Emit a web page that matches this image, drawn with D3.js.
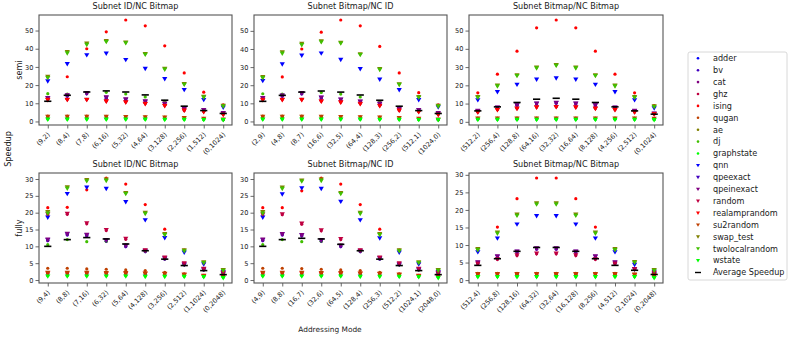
<!DOCTYPE html>
<html><head><meta charset="utf-8">
<script src="https://cdn.jsdelivr.net/npm/d3@7"></script>
<style>body{margin:0;background:#fff} svg{display:block;font-family:"DejaVu Sans",sans-serif}</style>
</head><body><svg id="chart" width="793" height="338"></svg>
<script>
// ---------------- DATA ----------------
const seriesNames = ["adder","bv","cat","ghz","ising","qugan","ae","dj","graphstate","qnn","qpeexact","qpeinexact","random","realamprandom","su2random","swap_test","twolocalrandom","wstate"];
const avgLabel = "Average Speedup";
const rowLabels = ["semi","fully"];
const panelTitles = ["Subnet ID/NC Bitmap","Subnet Bitmap/NC ID","Subnet Bitmap/NC Bitmap"];

const cats_semi_idBitmap = ["(9,2)","(8,4)","(7,8)","(6,16)","(5,32)","(4,64)","(3,128)","(2,256)","(1,512)","(0,1024)"];
const cats_semi_bitmapId = ["(2,9)","(4,8)","(8,7)","(16,6)","(32,5)","(64,4)","(128,3)","(256,2)","(512,1)","(1024,0)"];
const cats_semi_bitmapBitmap = ["(512,2)","(256,4)","(128,8)","(64,16)","(32,32)","(16,64)","(8,128)","(4,256)","(2,512)","(0,1024)"];
const cats_fully_idBitmap = ["(9,4)","(8,8)","(7,16)","(6,32)","(5,64)","(4,128)","(3,256)","(2,512)","(1,1024)","(0,2048)"];
const cats_fully_bitmapId = ["(4,9)","(8,8)","(16,7)","(32,6)","(64,5)","(128,4)","(256,3)","(512,2)","(1024,1)","(2048,0)"];
const cats_fully_bitmapBitmap = ["(512,4)","(256,8)","(128,16)","(64,32)","(32,64)","(16,128)","(8,256)","(4,512)","(2,1024)","(0,2048)"];

const semi_idBitmap = [
  [1.8,1.8,1.8,1.8,1.7,1.7,1.6,1.5,1.3,1.0],
  [12.5,13.9,15.2,12.7,11.6,10.5,9.3,6.8,6.0,4.3],
  [12.7,14.1,15.4,12.9,11.8,10.7,9.5,6.9,6.1,4.4],
  [12.2,12.2,12.2,11.3,10.8,10.0,8.9,6.0,5.5,4.0],
  [24.5,24.6,40.0,49.3,55.8,52.6,41.6,26.7,16.1,9.1],
  [2.9,2.9,2.9,2.8,2.7,2.6,2.4,2.1,1.7,1.2],
  [2.1,2.1,2.1,2.0,2.0,1.9,1.8,1.6,1.4,1.1],
  [15.3,15.1,15.8,16.0,15.1,13.5,11.0,7.8,5.8,4.0],
  [1.3,1.3,1.3,1.3,1.3,1.2,1.2,1.1,1.0,0.9],
  [22.1,31.6,36.5,37.4,33.9,29.0,23.4,17.4,11.9,7.7],
  [12.8,14.2,15.5,13.1,12.0,10.9,9.7,7.0,6.2,4.5],
  [13.0,14.4,15.7,13.3,12.2,11.1,9.9,7.1,6.4,4.7],
  [12.0,12.0,12.0,11.1,10.6,9.8,8.7,6.2,5.3,3.8],
  [11.8,11.9,11.9,11.0,10.5,9.6,8.5,6.0,5.2,3.7],
  [2.7,2.7,2.7,2.6,2.5,2.4,2.2,1.9,1.5,1.1],
  [24.6,38.3,42.9,44.3,43.5,37.2,29.0,20.6,13.6,8.7],
  [24.0,37.5,42.2,43.8,43.1,36.8,28.6,20.3,13.2,8.3],
  [1.1,1.1,1.1,1.1,1.1,1.1,1.0,1.0,0.9,0.8]
];
const avg_semi_idBitmap = [11.1,14.4,16.2,16.8,16.2,14.6,11.7,8.4,6.0,4.4];

const semi_bitmapId = [
  [1.8,1.8,1.8,1.8,1.7,1.7,1.6,1.5,1.3,1.0],
  [12.5,13.9,15.2,12.7,11.6,10.5,9.3,6.8,6.0,4.3],
  [12.7,14.1,15.4,12.9,11.8,10.7,9.5,6.9,6.1,4.4],
  [12.2,12.2,12.2,11.3,10.8,10.0,8.9,6.0,5.5,4.0],
  [24.5,24.6,40.0,49.3,56.0,52.8,41.4,26.8,15.9,9.1],
  [2.9,2.9,2.9,2.8,2.7,2.6,2.4,2.1,1.7,1.2],
  [2.1,2.1,2.1,2.0,2.0,1.9,1.8,1.6,1.4,1.1],
  [15.3,15.1,15.8,16.0,15.1,13.5,11.0,7.8,5.8,4.0],
  [1.3,1.3,1.3,1.3,1.3,1.2,1.2,1.1,1.0,0.9],
  [22.4,31.6,36.4,37.6,34.1,29.0,23.2,17.4,11.9,7.9],
  [12.8,14.2,15.5,13.1,12.0,10.9,9.7,7.0,6.2,4.5],
  [13.0,14.4,15.7,13.3,12.2,11.1,9.9,7.1,6.4,4.7],
  [12.0,12.0,12.0,11.1,10.6,9.8,8.7,6.2,5.3,3.8],
  [11.8,11.9,11.9,11.0,10.5,9.6,8.5,6.0,5.2,3.7],
  [2.7,2.7,2.7,2.6,2.5,2.4,2.2,1.9,1.5,1.1],
  [24.6,38.3,42.9,44.3,43.5,37.2,29.0,20.6,13.6,8.7],
  [24.0,37.5,42.2,43.8,43.1,36.8,28.6,20.3,13.2,8.3],
  [1.1,1.1,1.1,1.1,1.1,1.1,1.0,1.0,0.9,0.8]
];
const avg_semi_bitmapId = [11.1,14.4,16.2,16.8,16.2,14.6,11.7,8.4,6.0,4.4];

const semi_bitmapBitmap = [
  [1.6,1.6,1.6,1.6,1.6,1.6,1.6,1.6,1.6,1.5],
  [5.8,7.6,8.9,9.8,10.2,9.8,8.9,7.6,5.8,4.3],
  [5.9,7.7,9.0,9.9,10.3,9.9,9.0,7.7,5.9,4.4],
  [5.4,6.7,7.4,8.1,8.3,8.1,7.4,6.7,5.4,4.4],
  [15.9,26.1,38.7,51.5,55.8,51.5,38.7,26.1,15.9,8.9],
  [2.0,2.0,2.0,2.0,2.0,2.0,2.0,2.0,2.0,1.9],
  [1.8,1.8,1.8,1.8,1.8,1.8,1.8,1.8,1.8,1.7],
  [1.7,1.7,1.7,1.7,1.7,1.7,1.7,1.7,1.7,1.6],
  [1.4,1.4,1.4,1.4,1.4,1.4,1.4,1.4,1.4,1.2],
  [11.9,16.4,20.4,23.2,23.9,23.2,20.4,16.4,11.9,7.5],
  [6.0,7.8,9.1,10.0,10.4,10.0,9.1,7.8,6.0,4.5],
  [6.1,7.9,9.2,10.1,10.5,10.1,9.2,7.9,6.1,4.6],
  [5.3,6.6,7.3,8.0,8.2,8.0,7.3,6.6,5.3,4.3],
  [5.2,6.5,7.2,7.9,8.1,7.9,7.2,6.5,5.2,4.2],
  [1.9,1.9,1.9,1.9,1.9,1.9,1.9,1.9,1.9,1.8],
  [13.7,19.9,25.6,29.8,31.2,29.8,25.6,19.9,13.7,8.6],
  [13.3,19.5,25.2,29.4,30.8,29.4,25.2,19.5,13.3,8.2],
  [1.2,1.2,1.2,1.2,1.2,1.2,1.2,1.2,1.2,1.0]
];
const avg_semi_bitmapBitmap = [6.0,8.2,10.6,12.4,12.9,12.4,10.6,8.2,6.0,4.2];

const fully_idBitmap = [
  [1.8,1.8,1.8,1.8,1.8,1.7,1.6,1.5,1.3,1.2],
  [11.7,13.4,13.1,11.5,9.9,8.4,6.2,4.5,3.0,1.8],
  [11.8,13.5,13.2,11.6,10.0,8.5,6.3,4.6,3.1,1.9],
  [19.4,19.5,16.7,14.7,12.1,8.8,6.6,4.9,3.3,2.1],
  [21.5,21.6,26.8,30.3,28.5,22.4,15.1,8.9,5.0,2.8],
  [3.5,3.5,3.3,3.2,3.0,2.8,2.3,1.8,1.3,1.5],
  [2.0,2.0,2.0,2.0,1.9,1.9,1.8,1.6,1.4,1.1],
  [10.5,12.0,11.4,11.5,10.4,8.6,6.3,4.5,3.0,1.8],
  [1.3,1.3,1.3,1.3,1.3,1.2,1.2,1.1,1.0,0.8],
  [18.6,25.6,27.5,27.1,23.2,17.8,12.5,8.2,4.7,2.4],
  [11.9,13.6,13.3,11.7,10.1,8.6,6.4,4.6,3.1,1.9],
  [12.1,13.8,13.5,11.9,10.3,8.7,6.5,4.7,3.2,2.0],
  [19.6,19.7,16.9,14.9,12.3,8.9,6.7,5.0,3.4,2.2],
  [2.0,2.0,2.0,1.9,1.9,1.9,1.8,1.6,1.3,1.1],
  [2.2,2.2,2.2,2.1,2.1,2.0,1.9,1.6,1.2,1.3],
  [20.2,27.6,29.7,29.9,25.9,20.0,13.7,8.9,5.3,3.0],
  [19.8,27.2,29.4,29.5,25.6,19.7,13.4,8.6,5.1,2.8],
  [1.1,1.1,1.1,1.1,1.1,1.0,1.0,1.0,0.9,0.6]
];
const avg_fully_idBitmap = [10.0,12.0,12.6,12.2,10.7,8.7,6.2,4.3,2.8,1.6];

const fully_bitmapId = [
  [1.8,1.8,1.8,1.8,1.8,1.7,1.6,1.5,1.3,1.2],
  [11.7,13.4,13.1,11.5,9.9,8.4,6.2,4.5,3.0,1.8],
  [11.8,13.5,13.2,11.6,10.0,8.5,6.3,4.6,3.1,1.9],
  [19.3,19.4,16.6,14.6,12.0,8.8,6.6,4.9,3.3,2.1],
  [21.5,21.5,26.5,30.3,28.5,22.4,15.1,8.9,5.0,2.8],
  [3.5,3.5,3.4,3.2,3.0,2.8,2.3,1.8,1.3,1.5],
  [2.0,2.0,2.0,2.0,1.9,1.9,1.8,1.6,1.4,1.1],
  [10.5,12.0,11.4,11.5,10.4,8.6,6.3,4.5,3.0,1.8],
  [1.3,1.3,1.3,1.3,1.3,1.2,1.2,1.1,1.0,0.8],
  [18.6,25.5,27.3,27.1,23.3,17.8,12.4,8.2,4.7,2.4],
  [11.9,13.6,13.3,11.7,10.1,8.6,6.4,4.6,3.1,1.9],
  [12.1,13.7,13.4,11.9,10.3,8.7,6.6,4.7,3.2,2.0],
  [19.5,19.6,16.8,14.8,12.2,8.9,6.7,5.0,3.4,2.2],
  [2.0,2.0,2.0,1.9,1.9,1.9,1.8,1.6,1.3,1.1],
  [2.2,2.2,2.2,2.1,2.1,2.0,1.9,1.6,1.2,1.3],
  [20.2,27.5,29.6,29.9,25.9,20.0,13.7,8.9,5.3,3.0],
  [19.8,27.1,29.3,29.5,25.6,19.7,13.4,8.6,5.1,2.8],
  [1.1,1.1,1.1,1.1,1.1,1.0,1.0,1.0,0.9,0.6]
];
const avg_fully_bitmapId = [10.0,12.0,12.4,12.2,10.6,8.7,6.2,4.3,2.8,1.6];

const fully_bitmapBitmap = [
  [1.4,1.5,1.5,1.5,1.5,1.5,1.5,1.4,1.3,1.1],
  [4.8,6.5,7.9,8.8,8.8,7.9,6.5,4.8,3.0,1.7],
  [4.9,6.6,8.0,8.9,8.9,8.0,6.6,4.9,3.1,1.8],
  [4.6,5.9,7.0,7.5,7.5,7.0,5.9,4.6,3.0,2.0],
  [8.9,15.1,23.2,29.1,29.1,23.2,15.1,8.9,5.0,2.9],
  [1.9,1.9,1.9,1.9,1.9,1.9,1.9,1.9,1.7,1.5],
  [1.7,1.7,1.7,1.7,1.7,1.7,1.7,1.7,1.6,1.4],
  [1.5,1.5,1.5,1.5,1.5,1.5,1.5,1.5,1.4,1.3],
  [1.0,1.0,1.0,1.0,1.0,1.0,1.0,1.0,1.0,0.8],
  [8.0,11.9,15.9,18.3,18.3,15.9,11.9,8.0,4.4,2.4],
  [5.0,6.7,8.1,9.0,9.0,8.1,6.7,5.0,3.1,1.8],
  [5.1,6.8,8.2,9.1,9.1,8.2,6.8,5.1,3.2,1.9],
  [4.7,6.0,7.1,7.6,7.6,7.1,6.0,4.7,3.1,2.1],
  [1.6,1.6,1.6,1.6,1.6,1.6,1.6,1.6,1.5,1.3],
  [1.8,1.8,1.8,1.8,1.8,1.8,1.8,1.8,1.6,1.4],
  [8.9,13.6,18.7,21.9,21.9,18.7,13.6,8.9,5.2,2.9],
  [8.6,13.3,18.4,21.6,21.6,18.4,13.3,8.6,5.0,2.7],
  [0.9,0.9,0.9,0.9,0.9,0.9,0.9,0.9,0.9,0.6]
];
const avg_fully_bitmapBitmap = [4.2,6.1,8.2,9.3,9.3,8.2,6.1,4.2,2.8,1.6];

const yTicksSemi = [0,10,20,30,40,50];
const yTicksFully = [0,5,10,15,20,25,30];

// ---------------- STYLE / LAYOUT ----------------
const palette = ["#0000ff","#4000bf","#800080","#bf0040","#ff0000","#bf4000","#808000","#40bf00","#00ff00"];
const colX = [[39,232],[254,447],[469,663]];
const rowY = [[15,125],[173,283]];
const textCol = "#1a1a1a";

const panels = [
  {row:0,col:0,cats:cats_semi_idBitmap,vals:semi_idBitmap,avg:avg_semi_idBitmap,ticks:yTicksSemi},
  {row:0,col:1,cats:cats_semi_bitmapId,vals:semi_bitmapId,avg:avg_semi_bitmapId,ticks:yTicksSemi},
  {row:0,col:2,cats:cats_semi_bitmapBitmap,vals:semi_bitmapBitmap,avg:avg_semi_bitmapBitmap,ticks:yTicksSemi},
  {row:1,col:0,cats:cats_fully_idBitmap,vals:fully_idBitmap,avg:avg_fully_idBitmap,ticks:yTicksFully},
  {row:1,col:1,cats:cats_fully_bitmapId,vals:fully_bitmapId,avg:avg_fully_bitmapId,ticks:yTicksFully},
  {row:1,col:2,cats:cats_fully_bitmapBitmap,vals:fully_bitmapBitmap,avg:avg_fully_bitmapBitmap,ticks:yTicksFully}
];

const svg = d3.select("#chart");
svg.append("rect").attr("width",793).attr("height",338).attr("fill","#fff");

const triPath = "M-2.6,-1.9L2.6,-1.9L0,2.5Z";
const triPathSmall = "M-2,-1.5L2,-1.5L0,1.9Z";

panels.forEach(p => {
  const [x0,x1] = colX[p.col], [y0,y1] = rowY[p.row];
  const all = p.vals.flat().concat(p.avg);
  const lo = d3.min(all), hi = d3.max(all), pad = (hi-lo)*0.05;
  const x = d3.scalePoint().domain(p.cats).range([x0,x1]).padding(0.45);
  const y = d3.scaleLinear().domain([lo-pad, hi+pad]).range([y1,y0]);
  const g = svg.append("g");

  // axes
  const ya = g.append("g").attr("transform",`translate(${x0},0)`)
    .call(d3.axisLeft(y).tickValues(p.ticks).tickSize(3.5).tickPadding(2));
  ya.select(".domain").remove();
  ya.selectAll("line").attr("stroke","#444").attr("stroke-width",0.8);
  ya.selectAll("text").attr("font-size",6.6).attr("fill",textCol).attr("font-family","DejaVu Sans");

  const xa = g.append("g").attr("transform",`translate(0,${y1})`)
    .call(d3.axisBottom(x).tickSize(3.5));
  xa.select(".domain").remove();
  xa.selectAll("line").attr("stroke","#444").attr("stroke-width",0.8);
  xa.selectAll("text").attr("font-size",6.6).attr("fill",textCol).attr("font-family","DejaVu Sans")
    .attr("text-anchor","end").attr("y",0).attr("dy",0)
    .attr("transform","translate(2,10) rotate(-45)");

  // marks
  p.vals.forEach((arr, si) => {
    const color = palette[si % 9];
    const sg = g.append("g");
    if (si < 9) {
      sg.selectAll("circle").data(arr).join("circle")
        .attr("cx",(d,i)=>x(p.cats[i])).attr("cy",d=>y(d)).attr("r",1.6).attr("fill",color);
    } else {
      sg.selectAll("path").data(arr).join("path")
        .attr("d",triPath).attr("fill",color)
        .attr("transform",(d,i)=>`translate(${x(p.cats[i])},${y(d)})`);
    }
  });
  g.append("g").selectAll("line").data(p.avg).join("line")
    .attr("x1",(d,i)=>x(p.cats[i])-3.6).attr("x2",(d,i)=>x(p.cats[i])+3.6)
    .attr("y1",d=>y(d)).attr("y2",d=>y(d)).attr("stroke","#000").attr("stroke-width",1.6);

  // frame
  g.append("rect").attr("x",x0).attr("y",y0).attr("width",x1-x0).attr("height",y1-y0)
    .attr("fill","none").attr("stroke","#555").attr("stroke-width",1.1);

  // title
  g.append("text").attr("x",(x0+x1)/2).attr("y",y0-6.3).attr("text-anchor","middle")
    .attr("font-size",8.1).attr("fill",textCol).text(panelTitles[p.col]);

  if (p.col === 0) {
    g.append("text").attr("transform",`translate(22,${(y0+y1)/2}) rotate(-90)`)
      .attr("text-anchor","middle").attr("font-size",8.1).attr("fill",textCol).text(rowLabels[p.row]);
  }
});

svg.append("text").attr("transform","translate(11,149) rotate(-90)").attr("text-anchor","middle")
  .attr("font-size",8.1).attr("fill",textCol).text("Speedup");
svg.append("text").attr("x",330).attr("y",332).attr("text-anchor","middle")
  .attr("font-size",7.4).attr("fill",textCol).text("Addressing Mode");

// legend
const lg = svg.append("g");
lg.append("rect").attr("x",688).attr("y",52).attr("width",99).attr("height",228).attr("rx",2)
  .attr("fill","#fff").attr("stroke","#d4d4d4").attr("stroke-width",0.9);
const legendItems = seriesNames.concat([avgLabel]);
legendItems.forEach((name, i) => {
  const ly = 58.3 + i*11.9;
  if (i < 9) {
    lg.append("circle").attr("cx",698).attr("cy",ly).attr("r",1.3).attr("fill",palette[i%9]);
  } else if (i < 18) {
    lg.append("path").attr("d",triPathSmall).attr("fill",palette[i%9]).attr("transform",`translate(698,${ly})`);
  } else {
    lg.append("line").attr("x1",695).attr("x2",701).attr("y1",ly).attr("y2",ly).attr("stroke","#000").attr("stroke-width",1.4);
  }
  lg.append("text").attr("x",713).attr("y",ly).attr("dy","0.35em").attr("font-size",8.1)
    .attr("fill",textCol).text(name);
});
</script></body></html>
